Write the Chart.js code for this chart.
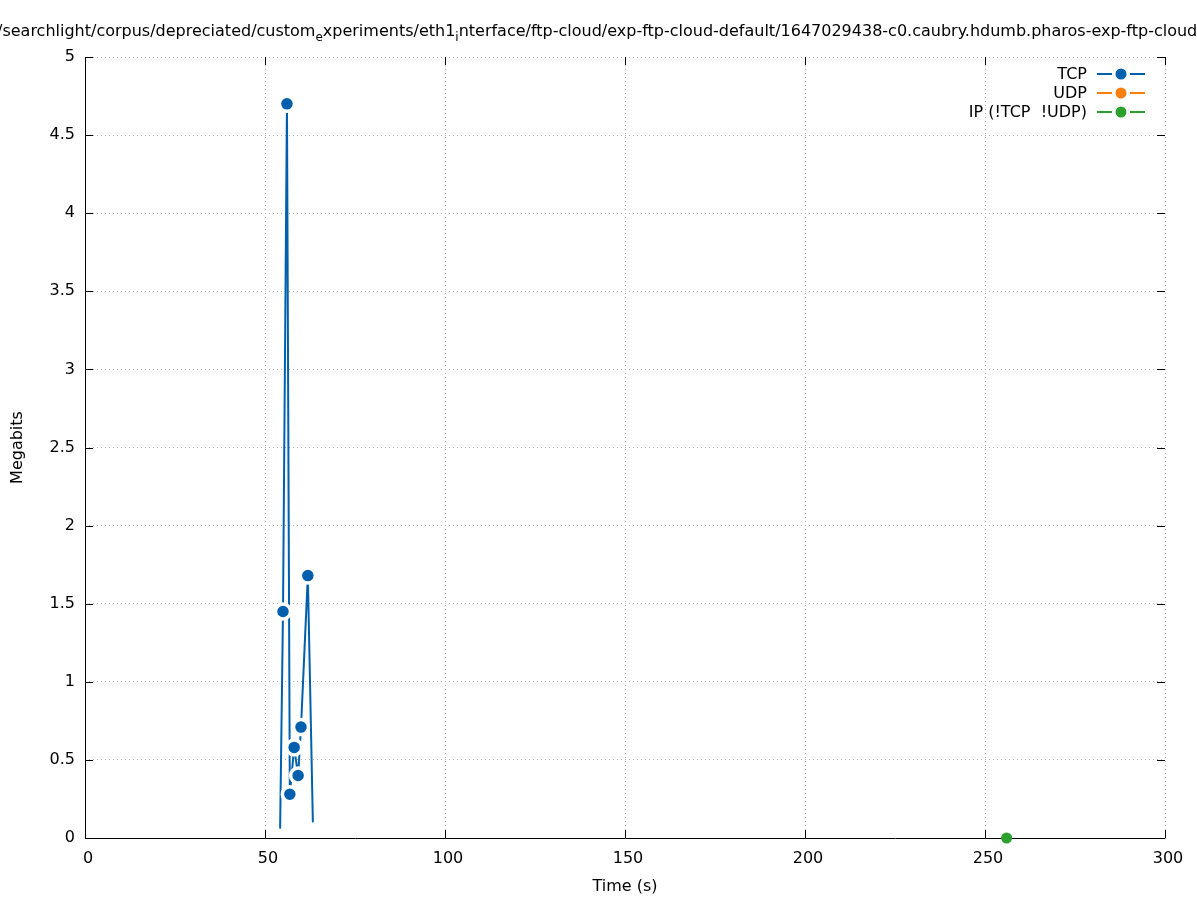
<!DOCTYPE html>
<html><head><meta charset="utf-8">
<script src="https://cdn.jsdelivr.net/npm/chart.js@4.4.0/dist/chart.umd.min.js"></script>
<style>html,body{margin:0;padding:0;background:#fff;} canvas{display:block;}</style>
</head><body>
<canvas id="c" width="1197" height="900"></canvas>
<script>
// ---- data ----
const tcpTime  = [54.2, 55.0, 56.1, 56.9, 58.1, 59.2, 60.0, 61.9, 63.3];
const tcpMbits = [0.06, 1.45, 4.70, 0.28, 0.58, 0.40, 0.71, 1.68, 0.10];
const udpTime  = [];
const udpMbits = [];
const ipTime   = [256];
const ipMbits  = [0];
const seriesNames = ['TCP', 'UDP', 'IP (!TCP  !UDP)'];
const xTickValues = [0, 50, 100, 150, 200, 250, 300];
const yTickValues = [0, 0.5, 1, 1.5, 2, 2.5, 3, 3.5, 4, 4.5, 5];
const xLabel = 'Time (s)';
const yLabel = 'Megabits';
const titleParts = [
  ['/searchlight/corpus/depreciated/custom', false], ['e', true],
  ['xperiments/eth1', false], ['i', true],
  ['nterface/ftp-cloud/exp-ftp-cloud-default/1647029438-c0.caubry.hdumb.pharos-exp-ftp-cloud-default', false]
];

const FONT = '"DejaVu Sans", sans-serif';
const FS = 16;
const COLORS = ['#0060ad', '#ff7f0e', '#2ca02c'];

const toPts = (xs, ys) => xs.map((x, i) => ({x, y: ys[i]}));

const bgPlugin = {
  id: 'bg',
  beforeDraw(chart) {
    const ctx = chart.ctx;
    ctx.save(); ctx.fillStyle = '#fff'; ctx.fillRect(0, 0, chart.width, chart.height); ctx.restore();
  }
};

const innerTicks = {
  id: 'innerTicks',
  beforeDatasetsDraw(chart) {
    const {ctx, chartArea: a, scales: {x, y}} = chart;
    const L = 8;
    ctx.save();
    ctx.strokeStyle = '#000'; ctx.lineWidth = 1; ctx.setLineDash([]);
    ctx.beginPath();
    xTickValues.forEach(v => {
      const px = Math.round(x.getPixelForValue(v)) + 0.5;
      ctx.moveTo(px, a.bottom); ctx.lineTo(px, a.bottom - L);
      ctx.moveTo(px, a.top); ctx.lineTo(px, a.top + L);
    });
    yTickValues.forEach(v => {
      const py = Math.round(y.getPixelForValue(v)) + 0.5;
      ctx.moveTo(a.left, py); ctx.lineTo(a.left + L, py);
      ctx.moveTo(a.right, py); ctx.lineTo(a.right - L, py);
    });
    // left and bottom axis lines
    const l = Math.round(a.left) + 0.5, b = Math.round(a.bottom) + 0.5;
    ctx.moveTo(l, a.top); ctx.lineTo(l, b);
    ctx.moveTo(l, b); ctx.lineTo(a.right + 0.5, b);
    ctx.stroke();
    ctx.restore();
  }
};

const pathTitle = {
  id: 'pathTitle',
  afterDraw(chart) {
    const ctx = chart.ctx;
    ctx.save();
    ctx.fillStyle = '#000';
    ctx.textBaseline = 'alphabetic';
    let xPos = -3;
    const base = 36;
    titleParts.forEach(([t, sub]) => {
      ctx.font = (sub ? '12px ' : FS + 'px ') + FONT;
      ctx.fillText(t, xPos, sub ? base + 5 : base);
      xPos += ctx.measureText(t).width;
    });
    ctx.restore();
  }
};

const keyPlugin = {
  id: 'keyBox',
  afterDraw(chart) {
    const ctx = chart.ctx;
    ctx.save();
    ctx.font = FS + 'px ' + FONT;
    ctx.textAlign = 'right';
    ctx.textBaseline = 'middle';
    seriesNames.forEach((name, i) => {
      const yy = 74 + i * 19;
      ctx.fillStyle = '#000';
      ctx.fillText(name, 1087, yy + 1);
      ctx.strokeStyle = COLORS[i];
      ctx.lineWidth = 2;
      ctx.beginPath();
      ctx.moveTo(1097, yy); ctx.lineTo(1112, yy);
      ctx.moveTo(1130, yy); ctx.lineTo(1145, yy);
      ctx.stroke();
      ctx.fillStyle = COLORS[i];
      ctx.beginPath(); ctx.arc(1121, yy, 5.5, 0, Math.PI * 2); ctx.fill();
    });
    ctx.restore();
  }
};

const lastIdx = tcpTime.length - 1;

new Chart(document.getElementById('c'), {
  type: 'scatter',
  data: {
    datasets: [
      {
        label: seriesNames[0], data: toPts(tcpTime, tcpMbits), showLine: true,
        borderColor: COLORS[0], backgroundColor: COLORS[0], borderWidth: 2,
        pointRadius: tcpTime.map((_, i) => (i === 0 || i === lastIdx) ? 0 : 7.5),
        pointBorderColor: '#fff', pointBorderWidth: 3.5, pointBackgroundColor: COLORS[0],
        clip: false
      },
      {
        label: seriesNames[1], data: toPts(udpTime, udpMbits), showLine: true,
        borderColor: COLORS[1], backgroundColor: COLORS[1], borderWidth: 2,
        pointRadius: 5.5, pointBorderWidth: 0, clip: false
      },
      {
        label: seriesNames[2], data: toPts(ipTime, ipMbits), showLine: true,
        borderColor: COLORS[2], backgroundColor: COLORS[2], borderWidth: 2,
        pointRadius: 5.5, pointBorderWidth: 0, clip: false
      }
    ]
  },
  options: {
    responsive: false,
    animation: false,
    events: [],
    layout: { padding: { top: 57, right: 32, left: 0, bottom: 0 } },
    plugins: { legend: { display: false }, title: { display: false }, tooltip: { enabled: false } },
    scales: {
      x: {
        type: 'linear', min: 0, max: 300,
        afterFit(s) { s.height = 62; },
        afterBuildTicks(s) { s.ticks = xTickValues.map(v => ({value: v})); },
        grid: { color: '#b4b4b4', lineWidth: 1, drawTicks: false },
        border: { display: false, dash: [1, 3] },
        ticks: { color: '#000', font: { family: FONT, size: FS }, padding: 11, labelOffset: 3, maxRotation: 0,
                 callback: v => String(v) },
        title: { display: true, text: xLabel, color: '#000', font: { family: FONT, size: FS }, padding: { bottom: 4 } }
      },
      y: {
        type: 'linear', min: 0, max: 5,
        afterFit(s) { s.width = 85; },
        afterBuildTicks(s) { s.ticks = yTickValues.map(v => ({value: v})); },
        grid: { color: '#b4b4b4', lineWidth: 1, drawTicks: false },
        border: { display: false, dash: [1, 3] },
        ticks: { color: '#000', font: { family: FONT, size: FS }, padding: 10,
                 callback: v => String(v) },
        title: { display: true, text: yLabel, color: '#000', font: { family: FONT, size: FS }, padding: { top: 8 } }
      }
    }
  },
  plugins: [bgPlugin, innerTicks, pathTitle, keyPlugin]
});
</script>
</body></html>
